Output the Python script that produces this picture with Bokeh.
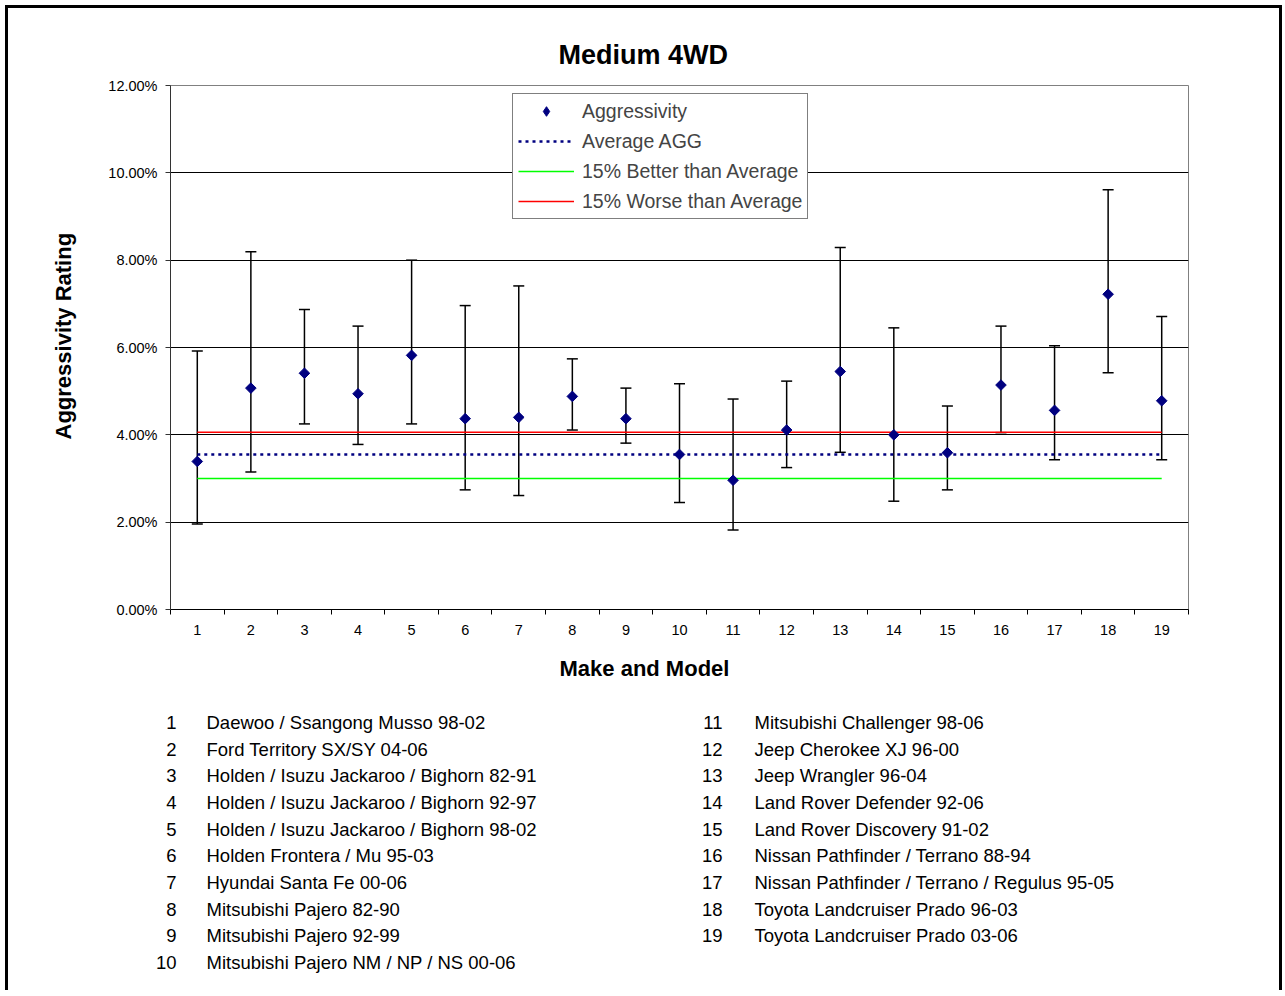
import math
from bokeh.plotting import figure
from bokeh.layouts import column
from bokeh.models import (ColumnDataSource, Whisker, TeeHead, FixedTicker,
                          NumeralTickFormatter, Legend, LegendItem, Range1d, Title)
from bokeh.core.properties import value
from bokeh.embed import file_html
from bokeh.resources import INLINE

# ---------------- data ----------------
categories = list(range(1, 20))
tick_labels = [str(c) for c in categories]
aggressivity = [0.0339, 0.0507, 0.0541, 0.0494, 0.0582, 0.0437, 0.0440, 0.0488, 0.0437, 0.0355,
                0.0296, 0.0411, 0.0545, 0.0400, 0.0359, 0.0514, 0.0456, 0.0722, 0.0478]
upper_ci = [0.0592, 0.0819, 0.0687, 0.0649, 0.0800, 0.0696, 0.0741, 0.0574, 0.0507, 0.0517,
            0.0482, 0.0523, 0.0829, 0.0645, 0.0466, 0.0649, 0.0604, 0.0961, 0.0671]
lower_ci = [0.0196, 0.0315, 0.0425, 0.0378, 0.0425, 0.0274, 0.0261, 0.0411, 0.0381, 0.0245,
            0.0182, 0.0325, 0.0360, 0.0248, 0.0274, 0.0405, 0.0343, 0.0542, 0.0343]
average_agg = 0.0355
better_than_avg = 0.0300
worse_than_avg = 0.0406
y_ticks = [0.0, 0.02, 0.04, 0.06, 0.08, 0.10, 0.12]
models = [
    "Daewoo / Ssangong Musso 98-02",
    "Ford Territory SX/SY 04-06",
    "Holden / Isuzu Jackaroo / Bighorn 82-91",
    "Holden / Isuzu Jackaroo / Bighorn 92-97",
    "Holden / Isuzu Jackaroo / Bighorn 98-02",
    "Holden  Frontera / Mu 95-03",
    "Hyundai Santa Fe 00-06",
    "Mitsubishi Pajero 82-90",
    "Mitsubishi Pajero 92-99",
    "Mitsubishi Pajero NM / NP / NS 00-06",
    "Mitsubishi Challenger 98-06",
    "Jeep Cherokee XJ 96-00",
    "Jeep Wrangler 96-04",
    "Land Rover Defender 92-06",
    "Land Rover Discovery 91-02",
    "Nissan  Pathfinder / Terrano  88-94",
    "Nissan Pathfinder / Terrano / Regulus 95-05",
    "Toyota Landcruiser Prado 96-03",
    "Toyota Landcruiser Prado 03-06",
]

FONT = "Liberation Sans"
W = 1271
H1 = 692
H2 = 293

# ---------------- main chart ----------------
p = figure(width=W, height=H1, output_backend="svg", toolbar_location=None,
           x_range=Range1d(0.5, 19.5), y_range=Range1d(0, 0.12),
           min_border_left=162, min_border_right=91, min_border_top=77, min_border_bottom=90)
p.frame_align = False
p.background_fill_color = "white"
p.border_fill_color = "white"
p.outline_line_color = "#808080"
p.outline_line_width = 1

p.title = Title(text="Medium 4WD", align="left", offset=388, standoff=32,
                text_font=FONT, text_font_size="27px", text_font_style="bold", text_color="black")

# axes
p.xaxis.ticker = FixedTicker(ticks=categories, minor_ticks=[c - 0.5 for c in categories] + [19.5])
p.xaxis.major_label_overrides = {c: t for c, t in zip(categories, tick_labels)}
p.xaxis.major_tick_out = 0
p.xaxis.major_tick_in = 0
p.xaxis.minor_tick_out = 5
p.xaxis.minor_tick_in = 0
p.xaxis.minor_tick_line_color = "#000000"
p.xaxis.axis_line_color = "#000000"
p.xaxis.major_label_standoff = 10
p.yaxis.ticker = FixedTicker(ticks=y_ticks, minor_ticks=[])
p.yaxis.formatter = NumeralTickFormatter(format="0.00%")
p.yaxis.major_tick_out = 5
p.yaxis.major_tick_in = 0
p.yaxis.minor_tick_out = 0
p.yaxis.minor_tick_in = 0
p.yaxis.axis_line_color = "#333333"
p.yaxis.major_tick_line_color = "#333333"
p.yaxis.major_label_standoff = 8
for ax in (p.xaxis, p.yaxis):
    ax.major_label_text_font = FONT
    ax.major_label_text_font_size = "14.5px"
    ax.major_label_text_color = "#000000"

p.add_layout(Title(text="Make and Model", align="left", offset=389, standoff=36,
                   vertical_align="top", text_font=FONT, text_font_size="22px",
                   text_font_style="bold", text_color="black"), "below")
p.add_layout(Title(text="Aggressivity Rating", align="left", offset=170, standoff=59,
                   text_font=FONT, text_font_size="22px",
                   text_font_style="bold", text_color="black"), "left")

p.xgrid.visible = False
p.ygrid.ticker = FixedTicker(ticks=y_ticks)
p.ygrid.grid_line_color = "#000000"
p.ygrid.grid_line_width = 1

# reference lines
l_avg = p.line(categories, [average_agg] * len(categories), line_color="#000080",
               line_width=2.5, line_dash="3 4")
l_better = p.line(categories, [better_than_avg] * len(categories), line_color="#00FF00", line_width=1.5)
l_worse = p.line(categories, [worse_than_avg] * len(categories), line_color="#FF0000", line_width=1.5)

# error bars
src = ColumnDataSource(dict(x=categories, y=aggressivity, upper=upper_ci, lower=lower_ci))
whisk = Whisker(base="x", upper="upper", lower="lower", source=src,
                line_color="black", line_width=1.5,
                upper_head=TeeHead(size=11, line_color="black", line_width=1.5),
                lower_head=TeeHead(size=11, line_color="black", line_width=1.5))
p.add_layout(whisk)

pts = p.scatter("x", "y", source=src, marker="square", angle=math.pi / 4, size=7.5,
                fill_color="#000080", line_color="#000080")
# legend-only swatch for the diamond marker: its single point lies outside the visible range
key_src = ColumnDataSource(dict(x=[-10.0], y=[-1.0]))
pts_key = p.scatter("x", "y", source=key_src, marker="diamond", size=10,
                    fill_color="#000080", line_color="#000080")

legend = Legend(items=[
    LegendItem(label="Aggressivity", renderers=[pts_key]),
    LegendItem(label="Average AGG", renderers=[l_avg]),
    LegendItem(label="15% Better than Average", renderers=[l_better]),
    LegendItem(label="15% Worse than Average", renderers=[l_worse]),
], location=(342, 390), border_line_color="black", border_line_width=1,
    label_text_font=FONT, label_text_font_size="19.5px", glyph_width=56, glyph_height=24,
    label_height=24, spacing=6, padding=5, label_standoff=8, margin=0,
    background_fill_color="white", background_fill_alpha=1)
p.add_layout(legend)

# ---------------- model key ----------------
k = figure(width=W, height=H2, output_backend="svg", toolbar_location=None,
           x_range=Range1d(0, W), y_range=Range1d(H2, 0),
           x_axis_type=None, y_axis_type=None, min_border=0,
           min_border_left=0, min_border_right=0, min_border_top=0, min_border_bottom=0)
k.frame_align = False
k.outline_line_color = None
k.xgrid.visible = False
k.ygrid.visible = False
k.background_fill_color = "white"
k.border_fill_color = "white"

row_gap = 26.67
num_x, txt_x, key_y = [], [], []
for i, name in enumerate(models):
    col = 0 if i < 10 else 1
    row = i if i < 10 else i - 10
    num_x.append(168 if col == 0 else 714)
    txt_x.append(198 if col == 0 else 746)
    key_y.append(22 + row * row_gap)

k.text(x=num_x, y=key_y, text=tick_labels, text_font=value(FONT), text_font_size="18.5px",
       text_align="right", text_baseline="middle", text_color="black")
k.text(x=txt_x, y=key_y, text=models, text_font=value(FONT), text_font_size="18.5px",
       text_align="left", text_baseline="middle", text_color="black")

layout = column(p, k, spacing=0, margin=(8, 0, 0, 8),
                styles={"box-shadow": "-3px -3px 0 0 #000000, 3px -3px 0 0 #000000"})

open("out.html", "w").write(file_html(layout, INLINE))
